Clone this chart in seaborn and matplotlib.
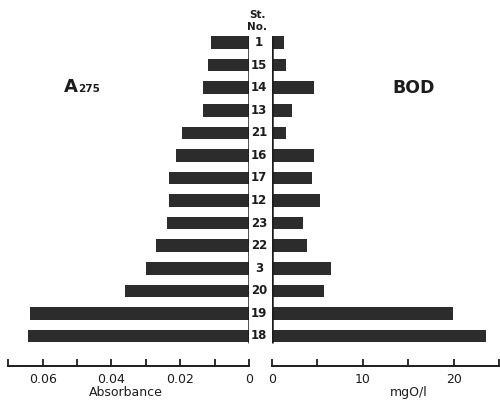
import matplotlib
matplotlib.use("Agg")
import matplotlib.pyplot as plt
import matplotlib.transforms as mtransforms
from matplotlib.ticker import FixedLocator
import seaborn as sns
import pandas as pd

stations = ["1", "15", "14", "13", "21", "16", "17", "12", "23", "22", "3", "20", "19", "18"]
a275 = [0.011, 0.012, 0.0134, 0.0134, 0.0195, 0.0212, 0.0233, 0.0233, 0.0238, 0.027, 0.030, 0.036, 0.0637, 0.0643]
bod = [1.4, 1.6, 4.6, 2.2, 1.6, 4.7, 4.4, 5.3, 3.4, 3.9, 6.5, 5.8, 19.9, 23.6]

df = pd.DataFrame({"station": stations, "a275": a275, "bod": bod})

sns.set_style("white")
plt.rcParams["font.family"] = ["DejaVu Sans"]

W, H = 500, 401
fig = plt.figure(figsize=(5, 4.01), dpi=100)
bar_color = "#2c2c2c"
ink = "#1c1c1c"

ax_bottom = 366
ax_top = 29
axL = fig.add_axes([6.5 / W, 1 - ax_bottom / H, 242.5 / W, (ax_bottom - ax_top) / H])
axR = fig.add_axes([271.7 / W, 1 - ax_bottom / H, 227.5 / W, (ax_bottom - ax_top) / H])

sns.barplot(data=df, x="a275", y="station", order=stations, ax=axL,
            color=bar_color, width=0.56, orient="h", saturation=1, linewidth=0)
sns.barplot(data=df, x="bod", y="station", order=stations, ax=axR,
            color=bar_color, width=0.56, orient="h", saturation=1, linewidth=0)

ylim = (14.33, -0.6)
for ax in (axL, axR):
    ax.set_ylim(*ylim)
    ax.set_ylabel("")
    ax.set_yticks([])
    for s in ("left", "right", "top"):
        ax.spines[s].set_visible(False)
    ax.spines["bottom"].set_linewidth(1.4)
    ax.spines["bottom"].set_color(ink)
    ax.tick_params(axis="x", which="both", direction="in", length=5, width=1.3,
                   colors=ink, labelsize=9, pad=5, bottom=True)
    ax.set_facecolor("none")
    ax.plot([0, 0], [-0.3, 13.3], color=ink, lw=1.8, solid_capstyle="butt")

axL.set_xlim(0.0705, 0)
axL.spines["bottom"].set_bounds(0, 0.07)
axL.xaxis.set_major_locator(FixedLocator([0.06, 0.04, 0.02, 0]))
axL.xaxis.set_minor_locator(FixedLocator([0.07, 0.05, 0.03, 0.01]))
axL.set_xticklabels(["0.06", "0.04", "0.02", "0"])
axL.set_xlabel("Absorbance", fontsize=9, color=ink)
axL.xaxis.set_label_coords(0.493, -0.058)

axR.set_xlim(0, 25)
axR.spines["bottom"].set_bounds(0, 25)
axR.xaxis.set_major_locator(FixedLocator([0, 10, 20]))
axR.xaxis.set_minor_locator(FixedLocator([5, 15, 25]))
axR.set_xticklabels(["0", "10", "20"])
axR.set_xlabel("mgO/l", fontsize=9, color=ink)
axR.xaxis.set_label_coords(0.604, -0.058)

# station labels in the middle column
tr = mtransforms.blended_transform_factory(fig.transFigure, axR.transData)
for i, st in enumerate(stations):
    axR.text(259 / W, i, st, transform=tr, ha="center", va="center",
             fontsize=8.5, fontweight="bold", color=ink, clip_on=False)

fig.text(257 / W, 1 - 15.5 / H, "St.", ha="center", va="center", fontsize=7.5,
         fontweight="bold", color=ink)
fig.text(257 / W, 1 - 27 / H, "No.", ha="center", va="center", fontsize=7.5,
         fontweight="bold", color=ink)

fig.text(64 / W, 1 - 92 / H, "A", ha="left", va="baseline", fontsize=13,
         fontweight="bold", color=ink)
fig.text(78 / W, 1 - 92 / H, "275", ha="left", va="baseline", fontsize=7.5,
         fontweight="bold", color=ink)
fig.text(392 / W, 1 - 93 / H, "BOD", ha="left", va="baseline", fontsize=12.5,
         fontweight="bold", color=ink)

fig.savefig("out.png", dpi=100, facecolor="white")
